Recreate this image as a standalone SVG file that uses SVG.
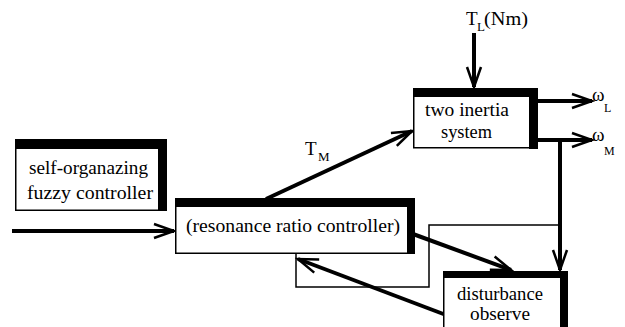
<svg xmlns="http://www.w3.org/2000/svg" width="625" height="327" viewBox="0 0 625 327" font-family="Liberation Serif, DejaVu Serif, serif">
<style>
.box{fill:#fff;stroke:#000;stroke-width:1.5}
.bar{fill:#000}
.t{font-size:18px;fill:#000}
.big{font-size:19px;fill:#000}
.sub{font-size:13px;fill:#000}
.sub2{font-size:12px;fill:#000}
.w{font-size:19px;fill:#000}
.thick{stroke:#000;stroke-width:4;fill:none}
.thin{stroke:#000;stroke-width:1.5;fill:none}
</style>
<defs>
<marker id="arr" markerUnits="userSpaceOnUse" viewBox="-23 -10 26 20" markerWidth="26" markerHeight="20" refX="0" refY="0" orient="auto">
<path d="M-20,-7 L0,0 L-20,7" fill="none" stroke="#000" stroke-width="2.5" stroke-linejoin="miter"/>
</marker>
</defs>
<rect width="625" height="327" fill="#fff"/>
<g id="connectors">
<polyline class="thin" points="558,225 429,225 429,287 296,287 296,254"/>
<line class="thick" x1="12" y1="231" x2="174" y2="231" marker-end="url(#arr)"/>
<line class="thick" x1="266" y1="199" x2="412" y2="131" marker-end="url(#arr)"/>
<line class="thick" x1="474" y1="33" x2="474" y2="87" marker-end="url(#arr)"/>
<line class="thick" x1="538" y1="101" x2="592" y2="101" marker-end="url(#arr)"/>
<line class="thick" x1="538" y1="140" x2="592" y2="140" marker-end="url(#arr)"/>
<line class="thick" x1="560" y1="140" x2="560" y2="270" marker-end="url(#arr)"/>
<line class="thick" x1="413" y1="234" x2="511" y2="270" marker-end="url(#arr)"/>
<line class="thick" x1="446" y1="315" x2="298" y2="259" marker-end="url(#arr)"/>
</g>
<g id="fuzzy">
<rect class="box" x="15.75" y="139.75" width="150.5" height="70.5"/>
<rect class="bar" x="15" y="139" width="152" height="10"/>
<rect class="bar" x="158" y="139" width="9" height="72"/>
<text class="t" font-family="Liberation Serif" x="29" y="174" textLength="119" lengthAdjust="spacingAndGlyphs">self-organazing</text>
<text class="t" font-family="Liberation Serif" x="27" y="199" textLength="126" lengthAdjust="spacingAndGlyphs">fuzzy controller</text>
</g>
<g id="controller">
<rect class="box" x="175.75" y="198.75" width="238.5" height="54.5"/>
<rect class="bar" x="175" y="198" width="240" height="9"/>
<rect class="bar" x="407" y="198" width="8" height="56"/>
<text class="t" font-family="Liberation Serif" x="186" y="232" textLength="214" lengthAdjust="spacingAndGlyphs">(resonance ratio controller)</text>
</g>
<g id="plant">
<rect class="box" x="413.75" y="88.75" width="123.5" height="59"/>
<rect class="bar" x="413" y="88" width="125" height="9"/>
<rect class="bar" x="529" y="88" width="9" height="61"/>
<text class="t" font-family="Liberation Serif" x="425" y="116" textLength="84" lengthAdjust="spacingAndGlyphs">two inertia</text>
<text class="t" font-family="Liberation Serif" x="441" y="138" textLength="51" lengthAdjust="spacingAndGlyphs">system</text>
</g>
<g id="observer">
<rect class="box" x="443.75" y="271.75" width="123.5" height="70"/>
<rect class="bar" x="443" y="271" width="125" height="7"/>
<rect class="bar" x="560" y="271" width="8" height="60"/>
<text class="t" font-family="Liberation Serif" x="457" y="300" textLength="86" lengthAdjust="spacingAndGlyphs">disturbance</text>
<text class="t" font-family="Liberation Serif" x="470" y="320" textLength="60" lengthAdjust="spacingAndGlyphs">observe</text>
</g>
<g id="labels" font-family="Liberation Serif">
<text class="big" x="466" y="25">T</text>
<text class="sub" x="477" y="31">L</text>
<text class="big" x="484" y="25" textLength="44" lengthAdjust="spacingAndGlyphs">(Nm)</text>
<text class="big" x="305" y="155">T</text>
<text class="sub" x="318" y="161">M</text>
<text class="w" x="592" y="101">ω</text>
<text class="sub2" x="604" y="112">L</text>
<text class="w" x="592" y="141">ω</text>
<text class="sub2" x="604" y="155">M</text>
</g>
</svg>
